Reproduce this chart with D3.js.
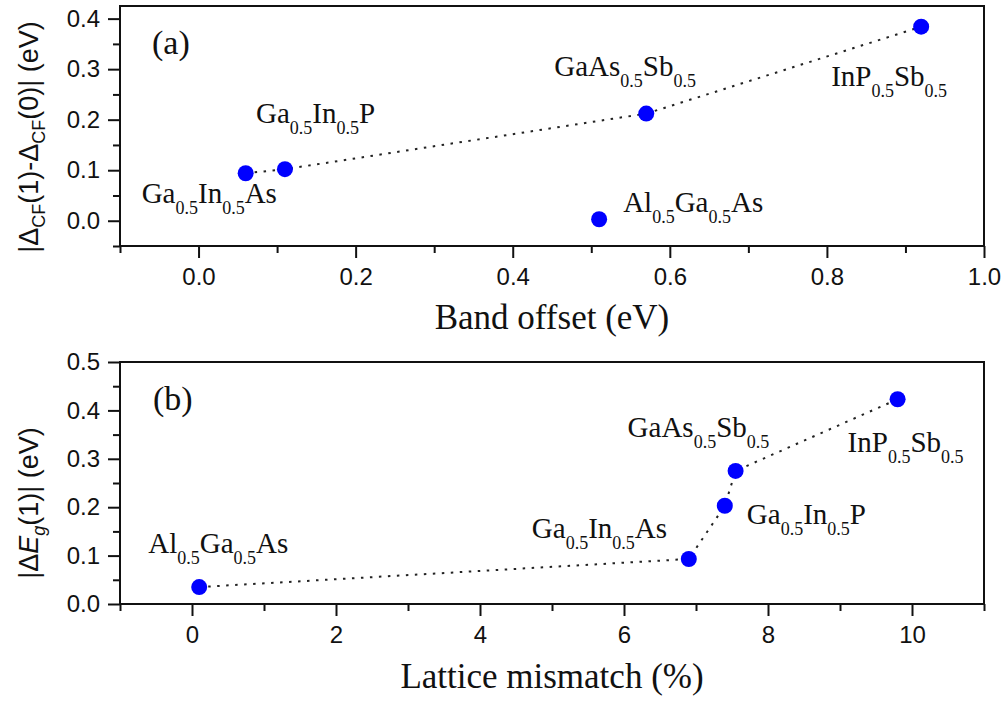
<!DOCTYPE html>
<html>
<head>
<meta charset="utf-8">
<script src="https://cdnjs.cloudflare.com/ajax/libs/d3/7.8.5/d3.min.js"></script>
<style>
	body { margin: 0; background: #fff; }
	.tick text { font-family: "Liberation Sans", Arial, sans-serif; font-size: 24px; fill: #111; }
	.serif { font-family: "Liberation Serif", "Times New Roman", serif; fill: #111; }
	.sans { font-family: "Liberation Sans", Arial, sans-serif; fill: #111; }
</style>
</head>
<body>
<div id="chart"></div>
<script>
// panel (a): crystal field splitting change vs band offset
var bandMaterials = ["Ga_0.5In_0.5As", "Ga_0.5In_0.5P", "GaAs_0.5Sb_0.5", "InP_0.5Sb_0.5", "Al_0.5Ga_0.5As"];
var bandOffset = [0.06, 0.11, 0.57, 0.92, 0.51];
var deltaCF = [0.094, 0.102, 0.212, 0.384, 0.003];
var bandLinked = [true, true, true, true, false];

// panel (b): band gap change vs lattice mismatch
var latticeMaterials = ["Al_0.5Ga_0.5As", "Ga_0.5In_0.5As", "Ga_0.5In_0.5P", "GaAs_0.5Sb_0.5", "InP_0.5Sb_0.5"];
var latticeMismatch = [0.1, 6.9, 7.4, 7.55, 9.8];
var deltaEg = [0.035, 0.093, 0.203, 0.275, 0.423];

var xTicksA = [0.0, 0.2, 0.4, 0.6, 0.8, 1.0];
var xMinorA = [-0.1, 0.1, 0.3, 0.5, 0.7, 0.9];
var yTicksA = [0.0, 0.1, 0.2, 0.3, 0.4];
var yMinorA = [-0.05, 0.05, 0.15, 0.25, 0.35];

var xTicksB = [0, 2, 4, 6, 8, 10];
var xMinorB = [-1, 1, 3, 5, 7, 9, 11];
var yTicksB = [0.0, 0.1, 0.2, 0.3, 0.4, 0.5];
var yMinorB = [0.05, 0.15, 0.25, 0.35, 0.45];

// label placement (pixel offsets from the point), layout only
var labelOffsetA = {
	"Ga_0.5In_0.5As": [-104, 30],
	"Ga_0.5In_0.5P": [-29, -46],
	"GaAs_0.5Sb_0.5": [-92, -38],
	"InP_0.5Sb_0.5": [-90, 59],
	"Al_0.5Ga_0.5As": [24, -7]
};
var labelOffsetB = {
	"Al_0.5Ga_0.5As": [-51, -34],
	"Ga_0.5In_0.5As": [-157, -21],
	"Ga_0.5In_0.5P": [22, 18],
	"GaAs_0.5Sb_0.5": [-108, -34],
	"InP_0.5Sb_0.5": [-50, 53]
};

var svg = d3.select("#chart")
	.append("svg")
	.attr("width", 1006)
	.attr("height", 712);

// writes "Ga_0.5In_0.5As" as text with subscripts
function formula(text, str, subSize, shift) {
	var parts = str.split(/_(\d\.\d)/);
	var down = false;
	parts.forEach(function (p, i) {
		if (p === "") return;
		var isSub = i % 2 === 1;
		var t = text.append("tspan").text(p);
		if (isSub) {
			t.attr("font-size", subSize).attr("dy", down ? 0 : shift);
			down = true;
		} else if (down) {
			t.attr("dy", -shift);
			down = false;
		}
	});
}

function drawPanel(opt) {
	var x = d3.scaleLinear().domain(opt.xDomain).range([120, 984]);
	var y = d3.scaleLinear().domain(opt.yDomain).range([opt.bottom, opt.top]);

	var g = svg.append("g");

	// minor ticks
	g.append("g")
		.attr("transform", "translate(0," + opt.bottom + ")")
		.call(d3.axisBottom(x).tickValues(opt.xMinor).tickSize(7).tickFormat(""))
		.call(function (a) { a.select(".domain").remove(); });
	g.append("g")
		.attr("transform", "translate(120,0)")
		.call(d3.axisLeft(y).tickValues(opt.yMinor).tickSize(7).tickFormat(""))
		.call(function (a) { a.select(".domain").remove(); });

	// major ticks
	g.append("g")
		.attr("transform", "translate(0," + opt.bottom + ")")
		.call(d3.axisBottom(x).tickValues(opt.xTicks).tickSize(12).tickPadding(10).tickFormat(opt.xFormat))
		.call(function (a) { a.select(".domain").remove(); });
	g.append("g")
		.attr("transform", "translate(120,0)")
		.call(d3.axisLeft(y).tickValues(opt.yTicks).tickSize(12).tickPadding(8).tickFormat(d3.format(".1f")))
		.call(function (a) { a.select(".domain").remove(); });

	g.selectAll(".tick line").attr("stroke", "#111").attr("stroke-width", 2);

	// frame
	g.append("rect")
		.attr("x", 120)
		.attr("y", opt.top)
		.attr("width", 864)
		.attr("height", opt.bottom - opt.top)
		.attr("fill", "none")
		.attr("stroke", "#111")
		.attr("stroke-width", 2);

	var pts = opt.names.map(function (n, i) {
		return { name: n, x: opt.xs[i], y: opt.ys[i], linked: opt.linked[i] };
	});

	g.append("path")
		.datum(pts.filter(function (d) { return d.linked; }))
		.attr("fill", "none")
		.attr("stroke", "#222")
		.attr("stroke-width", 2)
		.attr("stroke-dasharray", "2.5,6.5")
		.attr("d", d3.line()
			.x(function (d) { return x(d.x); })
			.y(function (d) { return y(d.y); }));

	g.selectAll("circle")
		.data(pts)
		.enter()
		.append("circle")
		.attr("cx", function (d) { return x(d.x); })
		.attr("cy", function (d) { return y(d.y); })
		.attr("r", 8)
		.attr("fill", "#0000ff");

	pts.forEach(function (d) {
		var off = opt.offsets[d.name];
		var t = g.append("text")
			.attr("class", "serif")
			.attr("x", x(d.x) + off[0])
			.attr("y", y(d.y) + off[1])
			.attr("font-size", 29);
		formula(t, d.name, 18, 11);
	});

	g.append("text")
		.attr("class", "serif")
		.attr("x", opt.tagX)
		.attr("y", opt.tagY)
		.attr("font-size", 34)
		.text(opt.tag);

	g.append("text")
		.attr("class", "serif")
		.attr("text-anchor", "middle")
		.attr("x", 552)
		.attr("y", opt.xTitleY)
		.attr("font-size", 35)
		.text(opt.xTitle);

	var yt = g.append("text")
		.attr("class", "sans")
		.attr("text-anchor", "middle")
		.attr("font-size", 27)
		.attr("transform", "translate(38," + opt.yTitleY + ") rotate(-90)");
	opt.yTitle(yt);
}

drawPanel({
	xDomain: [-0.1, 1.0], yDomain: [-0.05, 0.425],
	top: 6, bottom: 246,
	xTicks: xTicksA, xMinor: xMinorA, yTicks: yTicksA, yMinor: yMinorA,
	xFormat: d3.format(".1f"),
	names: bandMaterials, xs: bandOffset, ys: deltaCF, linked: bandLinked,
	offsets: labelOffsetA,
	tag: "(a)", tagX: 152, tagY: 54,
	xTitle: "Band offset (eV)", xTitleY: 329,
	yTitleY: 137,
	yTitle: function (t) {
		t.append("tspan").text("|\u0394");
		t.append("tspan").attr("font-size", 18).attr("dy", 7).text("CF");
		t.append("tspan").attr("dy", -7).text("(1)-\u0394");
		t.append("tspan").attr("font-size", 18).attr("dy", 7).text("CF");
		t.append("tspan").attr("dy", -7).text("(0)| (eV)");
	}
});

drawPanel({
	xDomain: [-1, 11], yDomain: [0, 0.5],
	top: 362, bottom: 604,
	xTicks: xTicksB, xMinor: xMinorB, yTicks: yTicksB, yMinor: yMinorB,
	xFormat: d3.format("d"),
	names: latticeMaterials, xs: latticeMismatch, ys: deltaEg,
	linked: latticeMaterials.map(function () { return true; }),
	offsets: labelOffsetB,
	tag: "(b)", tagX: 153, tagY: 410,
	xTitle: "Lattice mismatch (%)", xTitleY: 688,
	yTitleY: 503,
	yTitle: function (t) {
		t.append("tspan").text("|\u0394");
		t.append("tspan").attr("font-style", "italic").text("E");
		t.append("tspan").attr("font-style", "italic").attr("font-size", 18).attr("dy", 7).text("g");
		t.append("tspan").attr("dy", -7).text("(1)| (eV)");
	}
});
</script>
</body>
</html>
